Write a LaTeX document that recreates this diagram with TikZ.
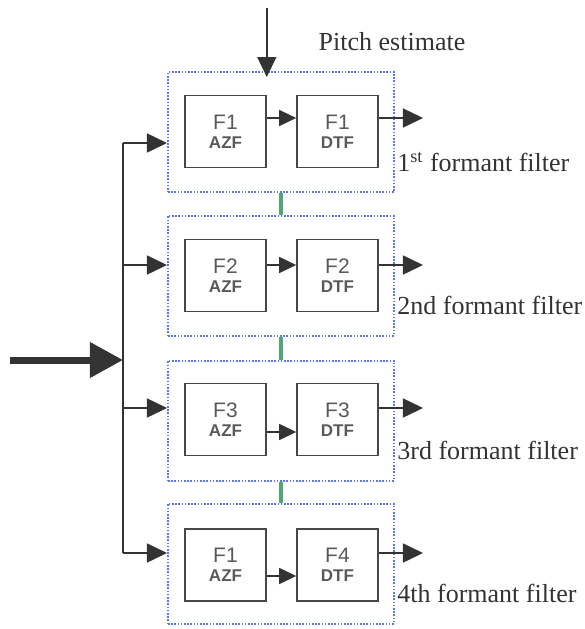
\documentclass[tikz,border=0pt]{standalone}
\usepackage{fontspec}
\setmainfont{Liberation Serif}
\setsansfont{Liberation Sans}
\usetikzlibrary{arrows.meta}
\definecolor{ink}{HTML}{333333}
\definecolor{dotblue}{HTML}{5B74F0}
\definecolor{linkgreen}{HTML}{4FA872}

\begin{document}
\begin{tikzpicture}[x=0.5pt, y=-0.5pt, >={Triangle[length=10pt,width=9.5pt]},
    every node/.style={font=\fontsize{13}{15}\selectfont, text=ink},
    filt/.style={draw=ink!90, line width=0.8pt, minimum width=40.5pt, minimum height=36pt,
                 inner sep=0pt, align=center, text=black!65},
    grp/.style={draw=dotblue, dash pattern=on 0.8pt off 0.8pt, line width=1pt,
                minimum width=113pt, minimum height=60pt},
    link/.style={draw=linkgreen, line width=2pt},
    sig/.style={draw=ink, line width=0.75pt}]
    \useasboundingbox (0,0) rectangle (585,629);

    % one formant filter per row: group box, AZF and DTF stages, arrows, label
    \foreach \n/\yc/\yg/\in/\mid/\out/\f/\g/\l in {
        1/131.5/132/143/118/118/1/1/{1\textsuperscript{st}},
        2/275.5/275.5/265/265/265/2/2/2nd,
        3/419.5/420.5/408/432/408/3/3/3rd,
        4/565/563.5/553/576/553/1/4/4th} {
        \node[grp] (grp\n) at (281,\yg) {};
        \node[filt] (az\n) at (225.5,\yc)
            {{\sffamily\fontsize{10.5}{12}\selectfont F\f}\\[-5.5pt]{\sffamily\fontsize{8.5}{9}\selectfont\bfseries AZF}};
        \node[filt] (dt\n) at (337.5,\yc)
            {{\sffamily\fontsize{10.5}{12}\selectfont F\g}\\[-5.5pt]{\sffamily\fontsize{8.5}{9}\selectfont\bfseries DTF}};
        \coordinate (in\n) at (123,\in);
        \coordinate (out\n) at (423,\out);
        \draw[sig,->] (in\n) -- (in\n -| grp\n.west);
        \draw[sig,-{Triangle[length=8.5pt,width=8pt]}] (az\n.east |- 0,\mid) -- (dt\n.west |- 0,\mid);
        \draw[sig,->] (dt\n.east |- out\n) -- (out\n);
        \node[anchor=west, inner sep=1pt] (lab\n) at ([yshift=15.5pt]grp\n.south east) {\l\ formant filter};
    }

    % green ties between the groups
    \foreach \a/\b in {1/2, 2/3, 3/4}
        \draw[link] (grp\a.south) -- (grp\b.north);

    % input bus
    \coordinate (src) at (10,360);
    \draw[sig] (in1) -- (in4);
    \draw[ink, line width=3.5pt, -{Triangle[length=16.5pt,width=17pt]}] (src) -- (src -| in1);

    % pitch input
    \node (pitch) at (392,42) {Pitch estimate};
    \coordinate (ptop) at (az1.north east |- 0,8);
    \draw[sig,->] (ptop) -- ([yshift=-3pt]az1.north east |- grp1.north);
\end{tikzpicture}
\end{document}
